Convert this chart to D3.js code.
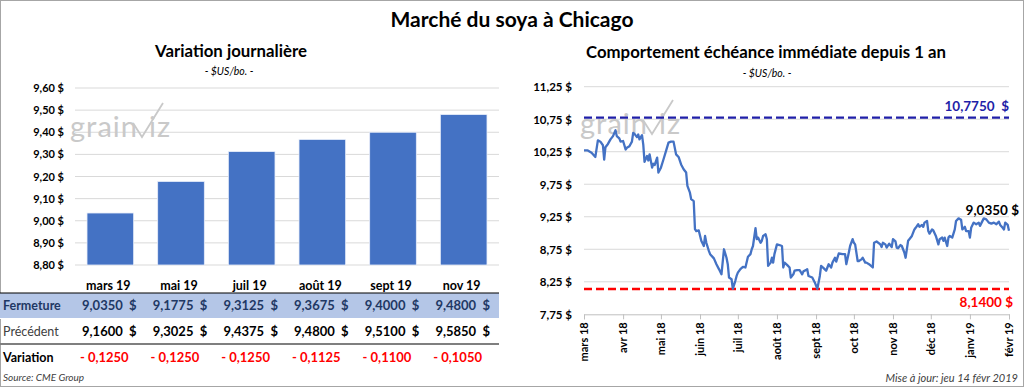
<!DOCTYPE html>
<html>
<head>
<meta charset="utf-8">
<script src="https://cdn.jsdelivr.net/npm/d3@7"></script>
<style>
  body { margin: 0; background: #fff; }
  svg { display: block; font-family: Lato, "Open Sans", sans-serif; }
  text { white-space: pre; }
</style>
</head>
<body>
<div id="chart"></div>
<script>
// contrats et cotes du jour
const contrats = ["mars 19", "mai 19", "juil 19", "août 19", "sept 19", "nov 19"];
const fermeture = [9.035, 9.1775, 9.3125, 9.3675, 9.4, 9.48];
const precedent = [9.16, 9.3025, 9.4375, 9.48, 9.51, 9.585];
const variation = [-0.125, -0.125, -0.125, -0.1125, -0.11, -0.105];
const barTicks = [8.8, 8.9, 9.0, 9.1, 9.2, 9.3, 9.4, 9.5, 9.6];

// échéance immédiate
const dates = [
  "2018-03-01","2018-03-04","2018-03-07","2018-03-10","2018-03-12","2018-03-14","2018-03-16","2018-03-17",
  "2018-03-18","2018-03-20","2018-03-22","2018-03-24","2018-03-26","2018-03-27","2018-03-29","2018-03-30",
  "2018-04-01","2018-04-03","2018-04-04","2018-04-06","2018-04-08","2018-04-09","2018-04-10","2018-04-12",
  "2018-04-13","2018-04-14","2018-04-16","2018-04-17","2018-04-18","2018-04-20","2018-04-21","2018-04-22",
  "2018-04-24","2018-04-25","2018-04-26","2018-04-28","2018-04-29","2018-05-01","2018-05-03","2018-05-05",
  "2018-05-07","2018-05-09","2018-05-11","2018-05-13","2018-05-15","2018-05-17","2018-05-19","2018-05-21",
  "2018-05-22","2018-05-24","2018-05-25","2018-05-27","2018-05-28","2018-05-29","2018-05-31","2018-06-02",
  "2018-06-04","2018-06-05","2018-06-06","2018-06-08","2018-06-09","2018-06-12","2018-06-14","2018-06-16",
  "2018-06-18","2018-06-20","2018-06-22","2018-06-23","2018-06-24","2018-06-26","2018-06-27","2018-06-29",
  "2018-06-30","2018-07-01","2018-07-03","2018-07-05","2018-07-07","2018-07-09","2018-07-11","2018-07-12",
  "2018-07-13","2018-07-15","2018-07-16","2018-07-17","2018-07-19","2018-07-20","2018-07-21","2018-07-23",
  "2018-07-24","2018-07-25","2018-07-27","2018-07-28","2018-07-29","2018-07-30","2018-08-01","2018-08-03",
  "2018-08-05","2018-08-06","2018-08-07","2018-08-09","2018-08-11","2018-08-12","2018-08-14","2018-08-15",
  "2018-08-17","2018-08-19","2018-08-21","2018-08-22","2018-08-24","2018-08-25","2018-08-26","2018-08-29",
  "2018-08-31","2018-09-02","2018-09-04","2018-09-05","2018-09-07","2018-09-09","2018-09-11","2018-09-13",
  "2018-09-14","2018-09-16","2018-09-17","2018-09-19","2018-09-22","2018-09-24","2018-09-25","2018-09-27",
  "2018-09-28","2018-09-30","2018-10-01","2018-10-02","2018-10-04","2018-10-05","2018-10-07","2018-10-08",
  "2018-10-10","2018-10-11","2018-10-13","2018-10-16","2018-10-17","2018-10-19","2018-10-22","2018-10-23",
  "2018-10-24","2018-10-26","2018-10-27","2018-10-29","2018-10-31","2018-11-01","2018-11-03","2018-11-04",
  "2018-11-05","2018-11-07","2018-11-08","2018-11-10","2018-11-11","2018-11-13","2018-11-14","2018-11-16",
  "2018-11-18","2018-11-19","2018-11-21","2018-11-22","2018-11-24","2018-11-25","2018-11-26","2018-11-28",
  "2018-11-29","2018-11-30","2018-12-02","2018-12-03","2018-12-05","2018-12-07","2018-12-08","2018-12-10",
  "2018-12-11","2018-12-12","2018-12-14","2018-12-15","2018-12-16","2018-12-18","2018-12-20","2018-12-21",
  "2018-12-23","2018-12-25","2018-12-26","2018-12-28","2018-12-29","2018-12-31","2019-01-01","2019-01-02",
  "2019-01-04","2019-01-06","2019-01-08","2019-01-09","2019-01-12","2019-01-14","2019-01-16","2019-01-18",
  "2019-01-20","2019-01-22","2019-01-24","2019-01-25","2019-01-27","2019-01-28","2019-01-29","2019-01-31",
  "2019-02-01"
];
const closes = [
  10.27, 10.27, 10.235, 10.17, 10.425, 10.405, 10.35, 10.13,
  10.32, 10.37, 10.44, 10.49, 10.58, 10.49, 10.455, 10.405,
  10.415, 10.285, 10.31, 10.335, 10.405, 10.54, 10.525, 10.475,
  10.515, 10.44, 10.505, 10.36, 10.095, 10.185, 10.115, 10.21,
  10.005, 10.065, 10.045, 10.16, 9.93, 10.005, 10.13, 10.26,
  10.39, 10.405, 10.405, 10.21, 10.17, 10.055, 9.98, 9.93,
  9.725, 9.62, 9.52, 9.49, 9.06, 9.03, 9.04, 8.88,
  8.80, 8.955, 8.85, 8.725, 8.675, 8.61, 8.52, 8.445,
  8.365, 8.75, 8.62, 8.52, 8.315, 8.29, 8.14, 8.265,
  8.34, 8.39, 8.445, 8.48, 8.47, 8.635, 8.675, 8.75,
  8.80, 9.075, 8.905, 8.93, 8.85, 8.88, 8.955, 8.98,
  8.905, 8.495, 8.545, 8.62, 8.545, 8.675, 8.825, 8.815,
  8.80, 8.47, 8.545, 8.51, 8.47, 8.315, 8.365, 8.42,
  8.43, 8.43, 8.365, 8.41, 8.43, 8.445, 8.34, 8.315,
  8.24, 8.14, 8.34, 8.495, 8.46, 8.42, 8.52, 8.47,
  8.545, 8.62, 8.56, 8.685, 8.675, 8.675, 8.52, 8.70,
  8.80, 8.905, 8.85, 8.825, 8.57, 8.57, 8.595, 8.62,
  8.545, 8.545, 8.52, 8.47, 8.85, 8.87, 8.825, 8.785,
  8.85, 8.825, 8.775, 8.835, 8.785, 8.905, 8.87, 8.775,
  8.765, 8.815, 8.80, 8.70, 8.62, 8.88, 8.905, 8.955,
  9.055, 9.08, 9.135, 9.095, 9.125, 9.095, 9.16, 9.185,
  9.03, 8.99, 9.055, 9.04, 8.955, 8.825, 8.905, 8.93,
  8.88, 8.93, 8.80, 8.93, 8.955, 8.93, 9.055, 9.185,
  9.225, 9.205, 9.055, 9.095, 9.03, 9.03, 8.93, 9.08,
  9.16, 9.135, 9.16, 9.11, 9.225, 9.21, 9.16, 9.145,
  9.16, 9.135, 9.175, 9.125, 9.08, 9.055, 9.16, 9.125,
  9.035
];
const lineTicks = [7.75, 8.25, 8.75, 9.25, 9.75, 10.25, 10.75, 11.25];
const monthTicks = ["2018-03-01","2018-04-01","2018-05-01","2018-06-01","2018-07-01","2018-08-01",
  "2018-09-01","2018-10-01","2018-11-01","2018-12-01","2019-01-01","2019-02-01"];
const plusHaut = 10.775;
const plusBas = 8.14;
const dernier = 9.035;

const W = 1024, H = 387;
const fr = d3.formatLocale({decimal: ",", thousands: " ", grouping: [3], currency: ["", " $"]});
const f2 = fr.format(".2f"), f4 = fr.format(".4f");
const frTime = d3.timeFormatLocale({
  dateTime: "%A %e %B %Y", date: "%d/%m/%Y", time: "%H:%M:%S", periods: ["AM", "PM"],
  days: ["dimanche","lundi","mardi","mercredi","jeudi","vendredi","samedi"],
  shortDays: ["dim","lun","mar","mer","jeu","ven","sam"],
  months: ["janvier","février","mars","avril","mai","juin","juillet","août","septembre","octobre","novembre","décembre"],
  shortMonths: ["janv","févr","mars","avr","mai","juin","juil","août","sept","oct","nov","déc"]
});
const fMois = frTime.format("%b %y");
const parse = d3.timeParse("%Y-%m-%d");

const svg = d3.select("#chart").append("svg")
    .attr("width", W)
    .attr("height", H);

svg.append("rect")
    .attr("x", 0.5).attr("y", 0.5)
    .attr("width", W - 1).attr("height", H - 1)
    .attr("fill", "#fff")
    .attr("stroke", "#a6a6a6");

svg.append("text")
    .attr("x", 512).attr("y", 27)
    .attr("text-anchor", "middle")
    .attr("font-size", 21).attr("font-weight", "bold")
    .text("Marché du soya à Chicago");

// watermark "grainViz"
function watermark(g, x0, y0) {
    g.append("text")
        .attr("x", x0).attr("y", y0)
        .attr("font-size", 29)
        .attr("letter-spacing", 1)
        .attr("fill", "#c9c9c9")
        .text("grain");
    g.append("path")
        .attr("d", `M${x0 + 63},${y0 - 14} L${x0 + 72},${y0} L${x0 + 93},${y0 - 34}`)
        .attr("fill", "none").attr("stroke", "#c9c9c9").attr("stroke-width", 1.8);
    g.append("text")
        .attr("x", x0 + 79).attr("y", y0)
        .attr("font-size", 29)
        .attr("letter-spacing", 1)
        .attr("fill", "#c9c9c9")
        .text("iz");
}

// ---------- left: bar chart ----------
const left = svg.append("g");

left.append("text")
    .attr("x", 231).attr("y", 57)
    .attr("text-anchor", "middle")
    .attr("font-size", 16.8).attr("font-weight", "bold")
    .text("Variation journalière");
left.append("text")
    .attr("x", 229).attr("y", 75)
    .attr("text-anchor", "middle")
    .attr("font-size", 10.5).attr("font-style", "italic")
    .text("- $US/bo. -");

const xb = d3.scaleBand()
    .domain(contrats)
    .range([75, 499])
    .paddingInner(0.34)
    .paddingOuter(0.17);
const yb = d3.scaleLinear()
    .domain([8.8, 9.6])
    .range([265, 88]);

left.selectAll(".grid")
    .data(barTicks)
    .enter()
    .append("line")
    .attr("x1", 75).attr("x2", 499)
    .attr("y1", d => yb(d)).attr("y2", d => yb(d))
    .attr("stroke", "#d9d9d9");

left.selectAll(".ytick")
    .data(barTicks)
    .enter()
    .append("text")
    .attr("x", 64).attr("y", d => yb(d) + 4)
    .attr("text-anchor", "end")
    .attr("font-size", 11).attr("font-weight", "bold")
    .text(d => f2(d) + " $");

watermark(left, 70, 137);

left.selectAll(".bar")
    .data(contrats)
    .enter()
    .append("rect")
    .attr("x", d => xb(d))
    .attr("width", xb.bandwidth())
    .attr("y", (d, i) => yb(fermeture[i]))
    .attr("height", (d, i) => yb(8.8) - yb(fermeture[i]))
    .attr("fill", "#4472c4")
    .attr("stroke", "#e8eefa")
    .attr("stroke-width", 0.8);

left.selectAll(".cat")
    .data(contrats)
    .enter()
    .append("text")
    .attr("x", d => xb(d) + xb.bandwidth() / 2 - 2)
    .attr("y", 290)
    .attr("text-anchor", "middle")
    .attr("font-size", 12.5).attr("font-weight", "bold")
    .text(d => d);

// table
left.append("rect")
    .attr("x", 0).attr("y", 293)
    .attr("width", 499).attr("height", 25)
    .attr("fill", "#b4c6e7");
left.append("line")
    .attr("x1", 0).attr("x2", 499).attr("y1", 293).attr("y2", 293)
    .attr("stroke", "#000").attr("stroke-width", 1.2);
left.append("line")
    .attr("x1", 0).attr("x2", 499).attr("y1", 318.5).attr("y2", 318.5)
    .attr("stroke", "#ffffff").attr("stroke-width", 1);
left.append("line")
    .attr("x1", 0).attr("x2", 499).attr("y1", 344).attr("y2", 344)
    .attr("stroke", "#7f7f7f").attr("stroke-width", 2.2);

const rows = [
    {label: "Fermeture", y: 310, vals: fermeture, color: "#1f3864", lc: "#1f3864", lw: "bold"},
    {label: "Précédent", y: 336, vals: precedent, color: "#000", lc: "#404040", lw: "normal"},
    {label: "Variation", y: 362, vals: variation, color: "#ff0000", lc: "#000", lw: "bold"}
];

rows.forEach(r => {
    left.append("text")
        .attr("x", 3).attr("y", r.y)
        .attr("font-size", 12.5).attr("font-weight", r.lw)
        .attr("fill", r.lc)
        .text(r.label);
    left.selectAll(null)
        .data(contrats)
        .enter()
        .append("text")
        .attr("x", d => r.label === "Variation" ? xb(d) + xb.bandwidth() - 5 : xb(d) + xb.bandwidth() + 3)
        .attr("y", r.y)
        .attr("text-anchor", "end")
        .attr("font-size", 13).attr("font-weight", "bold")
        .attr("fill", r.color)
        .text((d, i) => r.label === "Variation"
            ? "- " + f4(Math.abs(r.vals[i]))
            : f4(r.vals[i]) + "  $");
});

left.append("text")
    .attr("x", 3).attr("y", 381)
    .attr("font-size", 10).attr("font-style", "italic")
    .attr("fill", "#404040")
    .text("Source: CME Group");

// ---------- right: line chart ----------
const right = svg.append("g");

right.append("text")
    .attr("x", 766).attr("y", 58)
    .attr("text-anchor", "middle")
    .attr("font-size", 16.8).attr("font-weight", "bold")
    .text("Comportement échéance immédiate depuis 1 an");
right.append("text")
    .attr("x", 767).attr("y", 77)
    .attr("text-anchor", "middle")
    .attr("font-size", 10.5).attr("font-style", "italic")
    .text("- $US/bo. -");

const xl = d3.scaleTime()
    .domain([parse(monthTicks[0]), parse(monthTicks[monthTicks.length - 1])])
    .range([584, 1009]);
const yl = d3.scaleLinear()
    .domain([7.75, 11.25])
    .range([314.3, 86.7]);

right.selectAll(".grid")
    .data(lineTicks.slice(1))
    .enter()
    .append("line")
    .attr("x1", 584).attr("x2", 1009)
    .attr("y1", d => yl(d)).attr("y2", d => yl(d))
    .attr("stroke", "#d9d9d9");

right.selectAll(".ytick")
    .data(lineTicks)
    .enter()
    .append("text")
    .attr("x", 572).attr("y", d => yl(d) + 4.5)
    .attr("text-anchor", "end")
    .attr("font-size", 11.5).attr("font-weight", "bold")
    .text(d => f2(d) + " $");

// x axis
const xAxis = right.append("g")
    .attr("transform", `translate(0,${yl(7.75)})`)
    .call(d3.axisBottom(xl)
        .tickValues(monthTicks.map(parse))
        .tickSize(5)
        .tickFormat(fMois));
xAxis.select(".domain").attr("stroke", "#bfbfbf");
xAxis.selectAll(".tick line").attr("stroke", "#bfbfbf");
xAxis.selectAll(".tick text")
    .attr("font-family", "Lato, 'Open Sans', sans-serif")
    .attr("font-size", 11).attr("font-weight", "bold")
    .attr("fill", "#000")
    .attr("text-anchor", "end")
    .attr("transform", "rotate(-90)")
    .attr("x", -8).attr("y", 0).attr("dy", "0.35em");

watermark(right, 580, 134);

// max / min lines
right.append("line")
    .attr("x1", 584).attr("x2", 1009)
    .attr("y1", yl(plusHaut)).attr("y2", yl(plusHaut))
    .attr("stroke", "#1f1fa8").attr("stroke-width", 2.4)
    .attr("stroke-dasharray", "8,4");
right.append("line")
    .attr("x1", 584).attr("x2", 1009)
    .attr("y1", yl(plusBas)).attr("y2", yl(plusBas))
    .attr("stroke", "#ff0000").attr("stroke-width", 2.4)
    .attr("stroke-dasharray", "8,4");

const line = d3.line()
    .x((d, i) => xl(parse(dates[i])))
    .y(d => yl(d));

right.append("path")
    .datum(closes)
    .attr("d", line)
    .attr("fill", "none")
    .attr("stroke", "#4472c4")
    .attr("stroke-width", 2.3)
    .attr("stroke-linejoin", "round");

right.append("text")
    .attr("x", 1009).attr("y", yl(plusHaut) - 7)
    .attr("text-anchor", "end")
    .attr("font-size", 13.5).attr("font-weight", "bold")
    .attr("fill", "#1f1fa8")
    .text(f4(plusHaut) + "  $");
right.append("text")
    .attr("x", 1013).attr("y", yl(plusBas) + 18)
    .attr("text-anchor", "end")
    .attr("font-size", 13.5).attr("font-weight", "bold")
    .attr("fill", "#ff0000")
    .text(f4(plusBas) + " $");
right.append("text")
    .attr("x", 1019).attr("y", 215)
    .attr("text-anchor", "end")
    .attr("font-size", 13.5).attr("font-weight", "bold")
    .attr("fill", "#000")
    .text(f4(dernier) + " $");

right.append("text")
    .attr("x", 1018).attr("y", 382)
    .attr("text-anchor", "end")
    .attr("font-size", 11).attr("font-style", "italic")
    .attr("fill", "#404040")
    .text("Mise à jour: jeu 14 févr 2019");
</script>
</body>
</html>
